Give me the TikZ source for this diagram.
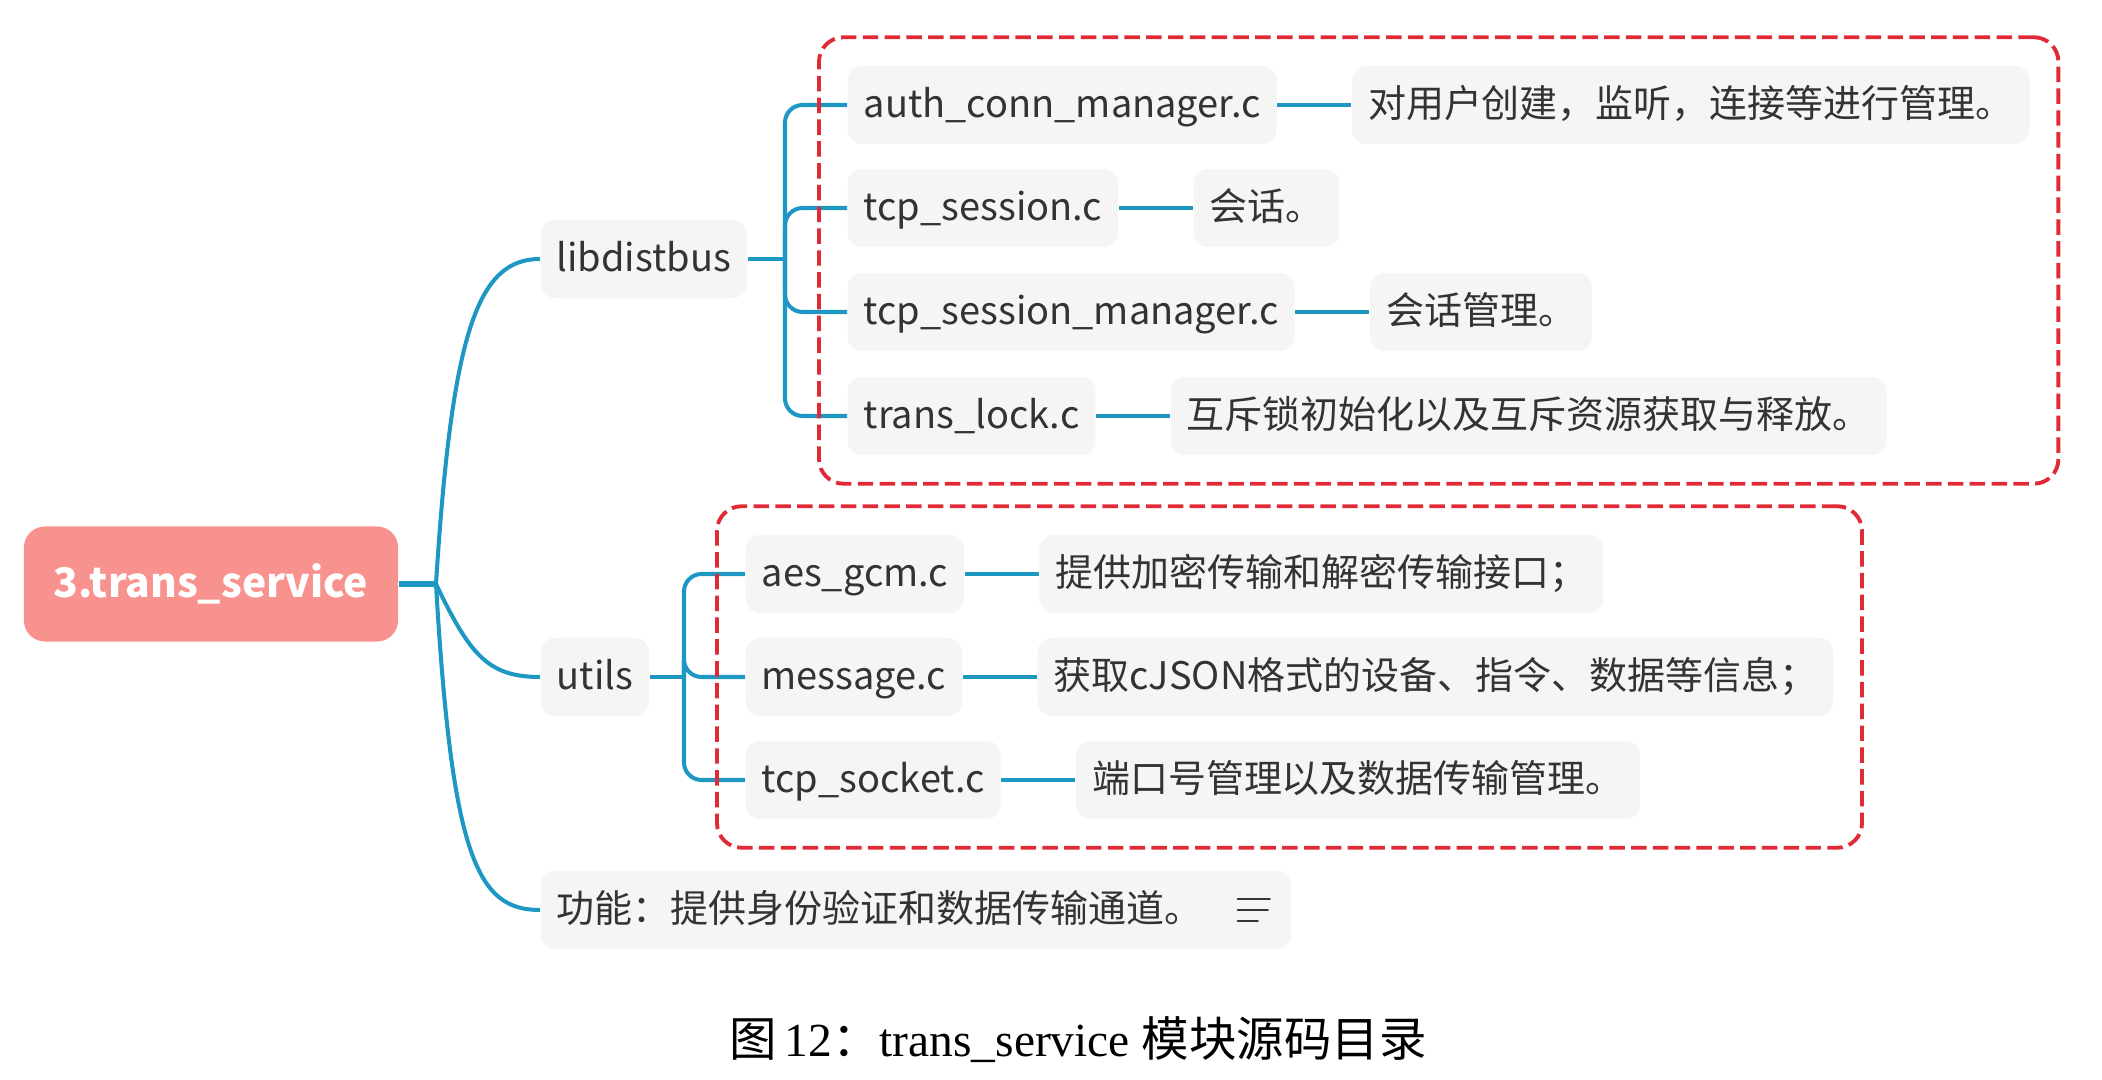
\documentclass[tikz,border=0pt]{standalone}
\usepackage{fontspec}
\setmainfont{Noto Sans CJK SC}
\newfontfamily\capLatin{Liberation Serif}
\newfontfamily\capHan{Noto Sans CJK SC}
\usetikzlibrary{positioning, fit}
\definecolor{rootFill}{HTML}{F8928F}
\definecolor{branchBlue}{HTML}{1E98C3}
\definecolor{topicFill}{HTML}{F5F5F5}
\definecolor{textDark}{HTML}{333333}
\definecolor{groupRed}{HTML}{E02B37}

\tikzset{
  topic/.style={fill=topicFill, rounded corners=4pt, text=textDark,
                font=\fontsize{10.8}{13}\selectfont, minimum height=0.78cm,
                text height=0.88em, text depth=0.18em,
                inner xsep=0.16cm, inner ysep=0pt},
  note/.style={topic, right=0.74cm of #1},
  link/.style={draw=branchBlue, line width=1.15pt},
  trunk/.style={draw=branchBlue, line width=1.6pt},
  group/.style={draw=groupRed, line width=1.1pt, dash pattern=on 4.4pt off 1.8pt,
                rounded corners=7pt, inner sep=0.28cm}
}

\begin{document}
\begin{tikzpicture}[x=0.01cm, y=-0.01cm]
  \useasboundingbox (0,0) rectangle (2102,1080);

  % central topic
  \node[fill=rootFill, rounded corners=6pt, text=white, minimum width=3.74cm,
        minimum height=1.15cm, font=\fontsize{11.6}{14}\selectfont\bfseries]
        (root) at (211,584) {3.trans\_service};
  \coordinate (fork) at (436,584);

  % main branches
  \node[topic, anchor=west] (lib) at (540,259) {libdistbus};
  \node[topic, anchor=west] (utils) at (540,677) {utils};
  \node[topic, anchor=west, text width=7.18cm, align=left] (func) at (540,910)
        {功能：提供身份验证和数据传输通道。};
  \draw[textDark, line width=0.7pt, line cap=round]
        ([xshift=-0.54cm, yshift=0.11cm]func.east) -- ++(32,0)
        ([xshift=-0.54cm]func.east) -- ++(30,0)
        ([xshift=-0.54cm, yshift=-0.11cm]func.east) -- ++(20,0);

  % libdistbus files
  \node[topic, anchor=west] (authc) at (847,105) {auth\_conn\_manager.c};
  \node[topic, anchor=west] (sessc) at (847,208) {tcp\_session.c};
  \node[topic, anchor=west] (sessmgrc) at (847,312) {tcp\_session\_manager.c};
  \node[topic, anchor=west] (lockc) at (847,416) {trans\_lock.c};
  \node[note=authc] (authnote) {对用户创建，监听，连接等进行管理。};
  \node[note=sessc] (sessnote) {会话。};
  \node[note=sessmgrc] (sessmgrnote) {会话管理。};
  \node[note=lockc] (locknote) {互斥锁初始化以及互斥资源获取与释放。};

  % utils files
  \node[topic, anchor=west] (aesc) at (745,574) {aes\_gcm.c};
  \node[topic, anchor=west] (msgc) at (745,677) {message.c};
  \node[topic, anchor=west] (sockc) at (745,780) {tcp\_socket.c};
  \node[note=aesc] (aesnote) {提供加密传输和解密传输接口；};
  \node[note=msgc] (msgnote) {获取cJSON格式的设备、指令、数据等信息；};
  \node[note=sockc] (socknote) {端口号管理以及数据传输管理。};

  % connectors
  \draw[trunk] (root.east) -- (fork);
  \draw[link] (fork) .. controls (452,330) and (478,259) .. (lib.west);
  \draw[link] (fork) .. controls (470,655) and (488,677) .. (utils.west);
  \draw[link] (fork) .. controls (452,860) and (478,910) .. (func.west);

  \coordinate (libbus) at (785,259);
  \draw[link] (lib.east) -- (libbus);
  \foreach \file in {authc, sessc, sessmgrc, lockc}
    \draw[link, rounded corners=5pt] (libbus) |- (\file.west);

  \coordinate (utilsbus) at (684,677);
  \draw[link] (utils.east) -- (utilsbus);
  \foreach \file in {aesc, msgc, sockc}
    \draw[link, rounded corners=5pt] (utilsbus) |- (\file.west);

  \foreach \file/\what in {authc/authnote, sessc/sessnote, sessmgrc/sessmgrnote,
                           lockc/locknote, aesc/aesnote, msgc/msgnote, sockc/socknote}
    \draw[link] (\file.east) -- (\what.west);

  % dashed groups
  \node[group, fit=(authc)(authnote)(lockc)] (libgroup) {};
  \node[group, fit=(aesc)(msgnote)(sockc)] (utilsgroup) {};

  % caption
  \node[font=\fontsize{13.5}{16}\selectfont] (caption) at (1078,1040)
        {\capHan 图\,\capLatin 12\capHan ：\capLatin trans\_service \capHan 模块源码目录};
\end{tikzpicture}
\end{document}
